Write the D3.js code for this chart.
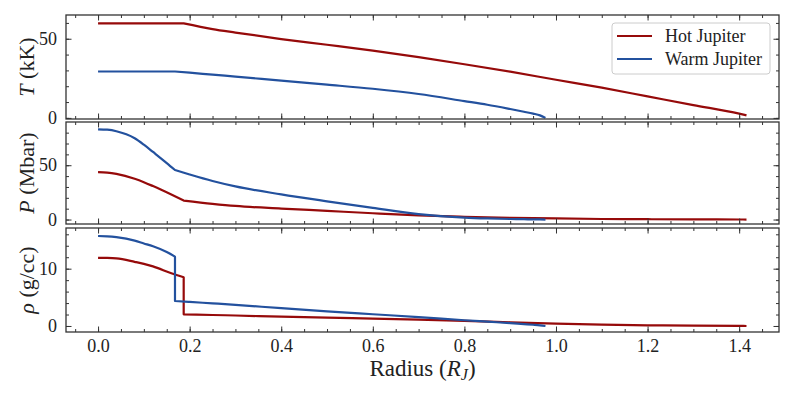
<!DOCTYPE html>
<html>
<head>
<meta charset="utf-8">
<script src="https://cdn.jsdelivr.net/npm/d3@7"></script>
<style>
body { margin: 0; background: #fff; }
text { font-family: "Liberation Serif", "DejaVu Serif", serif; fill: #222; }
</style>
</head>
<body>
<svg id="chart" width="793" height="397"></svg>
<script>
// radius grid of each model (R_J); repeated radius = jump at the core edge
var hotRadius  = [0, 0.02, 0.04, 0.08, 0.1, 0.12, 0.16, 0.187, 0.187, 0.25, 0.3, 0.4, 0.5, 0.6, 0.7, 0.8, 0.9, 1.0, 1.1, 1.2, 1.3, 1.4, 1.416];
var warmRadius = [0, 0.02, 0.04, 0.08, 0.1, 0.12, 0.15, 0.168, 0.168, 0.2, 0.25, 0.3, 0.4, 0.5, 0.6, 0.7, 0.8, 0.85, 0.9, 0.93, 0.95, 0.965, 0.977];

// temperature (kK)
var hotT  = [59.7, 59.7, 59.7, 59.7, 59.7, 59.7, 59.7, 59.7, 59.7, 56.1, 53.9, 49.8, 46.2, 42.5, 38.4, 33.9, 29.2, 24.1, 19.1, 13.6, 8.1, 2.7, 1.6];
var warmT = [29.3, 29.3, 29.3, 29.3, 29.3, 29.3, 29.3, 29.3, 29.3, 28.6, 27.3, 26.1, 23.5, 21.0, 18.4, 15.1, 10.6, 8.3, 5.6, 3.9, 2.7, 1.6, 0.0];

// pressure (Mbar)
var hotP  = [43.6, 43.2, 42.0, 37.5, 34.4, 30.8, 23.0, 17.5, 17.5, 14.5, 12.5, 10.1, 8.0, 5.8, 3.8, 2.5, 1.6, 1.0, 0.5, 0.3, 0.15, 0.05, 0.0];
var warmP = [83.1, 82.7, 81.3, 74.8, 68.9, 62.2, 52.0, 45.6, 45.6, 41.5, 35.5, 30.5, 23.2, 16.8, 10.7, 5.0, 1.8, 1.0, 0.5, 0.3, 0.15, 0.07, 0.0];

// density (g/cc)
var hotRho  = [11.9, 11.88, 11.8, 11.2, 10.85, 10.4, 9.2, 8.5, 2.04, 1.92, 1.83, 1.62, 1.45, 1.3, 1.1, 0.88, 0.65, 0.42, 0.22, 0.12, 0.06, 0.02, 0.0];
var warmRho = [15.7, 15.65, 15.5, 14.9, 14.4, 13.9, 12.9, 12.1, 4.36, 4.2, 3.95, 3.7, 3.1, 2.55, 2.05, 1.55, 1.0, 0.75, 0.5, 0.33, 0.22, 0.12, 0.0];

var seriesNames = ["Hot Jupiter", "Warm Jupiter"];
var xTicks = [0.0, 0.2, 0.4, 0.6, 0.8, 1.0, 1.2, 1.4];
var xMinorTicks = d3.range(-0.05, 1.46, 0.05);
var tTicks = [0, 50], pTicks = [0, 50], rhoTicks = [0, 10];

var svg = d3.select('#chart'),
    left = 66, right = 779,
    colors = {"Hot Jupiter": "#960a0a", "Warm Jupiter": "#23519e"};

var x = d3.scaleLinear().domain([-0.07, 1.487]).range([left, right]);

var panels = [
    {top: 15,  bottom: 119, domain: [-0.7, 65],   ticks: tTicks,   minor: 10, label: ["T", " (kK)"],
     hot: hotT, warm: warmT},
    {top: 122, bottom: 224, domain: [-4.1, 89.8], ticks: pTicks,   minor: 10, label: ["P", " (Mbar)"],
     hot: hotP, warm: warmP},
    {top: 228, bottom: 332, domain: [-1.05, 17.1], ticks: rhoTicks, minor: 2, label: ["ρ", " (g/cc)"],
     hot: hotRho, warm: warmRho}
];

// smooth pieces, joined straight across the repeated radius (core boundary)
function profilePath(line, pts) {
    var pieces = [[pts[0]]];
    for (var i = 1; i < pts.length; i++) {
        if (pts[i][0] === pts[i - 1][0]) pieces.push([]);
        pieces[pieces.length - 1].push(pts[i]);
    }
    return pieces.map((p, i) => {
        var s = line(p);
        return i > 0 ? 'L' + s.slice(1) : s;
    }).join('');
}

panels.forEach(function (p, idx) {
    var y = d3.scaleLinear().domain(p.domain).range([p.bottom, p.top]);
    var g = svg.append('g');
    var minorY = d3.range(0, p.domain[1], p.minor);
    var isLast = idx === panels.length - 1;

    var lines = [
        {name: "Hot Jupiter", r: hotRadius, v: p.hot},
        {name: "Warm Jupiter", r: warmRadius, v: p.warm}
    ];
    var line = d3.line()
        .x(d => x(d[0]))
        .y(d => y(d[1]))
        .curve(d3.curveMonotoneX);

    g.selectAll('.series')
        .data(lines)
        .enter()
        .append('path')
        .attr('d', d => profilePath(line, d.r.map((r, i) => [r, d.v[i]])))
        .attr('fill', 'none')
        .attr('stroke', d => colors[d.name])
        .attr('stroke-width', 2.2)
        .attr('stroke-linejoin', 'round');

    // ticks pointing inward on every side
    function clean(sel) { sel.select('.domain').remove(); sel.selectAll('line').attr('stroke', '#333'); }

    g.append('g').attr('transform', 'translate(' + left + ',0)')
        .call(d3.axisLeft(y).tickValues(p.ticks).tickSize(-5.5).tickPadding(9).tickFormat(d3.format('d')))
        .call(clean)
        .selectAll('text').style('font-size', '18px').attr('fill', '#222');
    g.append('g').attr('transform', 'translate(' + left + ',0)')
        .call(d3.axisLeft(y).tickValues(minorY).tickSize(-3).tickFormat(''))
        .call(clean);
    g.append('g').attr('transform', 'translate(' + right + ',0)')
        .call(d3.axisRight(y).tickValues(p.ticks).tickSize(-5.5).tickFormat(''))
        .call(clean);
    g.append('g').attr('transform', 'translate(' + right + ',0)')
        .call(d3.axisRight(y).tickValues(minorY).tickSize(-3).tickFormat(''))
        .call(clean);

    g.append('g').attr('transform', 'translate(0,' + p.top + ')')
        .call(d3.axisTop(x).tickValues(xTicks).tickSize(-5.5).tickFormat(''))
        .call(clean);
    g.append('g').attr('transform', 'translate(0,' + p.top + ')')
        .call(d3.axisTop(x).tickValues(xMinorTicks).tickSize(-3).tickFormat(''))
        .call(clean);
    var bottomAxis = g.append('g').attr('transform', 'translate(0,' + p.bottom + ')')
        .call(d3.axisBottom(x).tickValues(xTicks).tickSize(-5.5).tickPadding(7)
            .tickFormat(isLast ? d3.format('.1f') : ''))
        .call(clean);
    bottomAxis.selectAll('text').style('font-size', '18px').attr('fill', '#222');
    g.append('g').attr('transform', 'translate(0,' + p.bottom + ')')
        .call(d3.axisBottom(x).tickValues(xMinorTicks).tickSize(-3).tickFormat(''))
        .call(clean);

    g.append('rect')
        .attr('x', left).attr('y', p.top)
        .attr('width', right - left).attr('height', p.bottom - p.top)
        .attr('fill', 'none').attr('stroke', '#333').attr('stroke-width', 1.3);

    var lbl = g.append('text')
        .attr('transform', 'translate(34,' + (p.top + p.bottom) / 2 + ') rotate(-90)')
        .attr('text-anchor', 'middle')
        .style('font-size', '22px');
    lbl.append('tspan').style('font-style', 'italic').text(p.label[0]);
    lbl.append('tspan').text(p.label[1]);
});

// x label
var xl = svg.append('text')
    .attr('x', (left + right) / 2).attr('y', 376)
    .attr('text-anchor', 'middle')
    .style('font-size', '23px');
xl.append('tspan').text('Radius (');
xl.append('tspan').style('font-style', 'italic').text('R');
xl.append('tspan').style('font-style', 'italic').style('font-size', '16px').attr('dy', 4).text('J');
xl.append('tspan').attr('dy', -4).text(')');

// legend
var legend = svg.append('g').attr('transform', 'translate(612,23)');
legend.append('rect')
    .attr('width', 158).attr('height', 51).attr('rx', 3)
    .attr('fill', '#fff').attr('fill-opacity', 0.8)
    .attr('stroke', '#ccc').attr('stroke-width', 1);
var item = legend.selectAll('.item')
    .data(seriesNames)
    .enter()
    .append('g')
    .attr('transform', (d, i) => 'translate(0,' + (13 + i * 23) + ')');
item.append('line')
    .attr('x1', 5).attr('x2', 40)
    .attr('stroke', d => colors[d]).attr('stroke-width', 2.2);
item.append('text')
    .attr('x', 53).attr('dy', '0.33em')
    .style('font-size', '18px')
    .text(d => d);
</script>
</body>
</html>
